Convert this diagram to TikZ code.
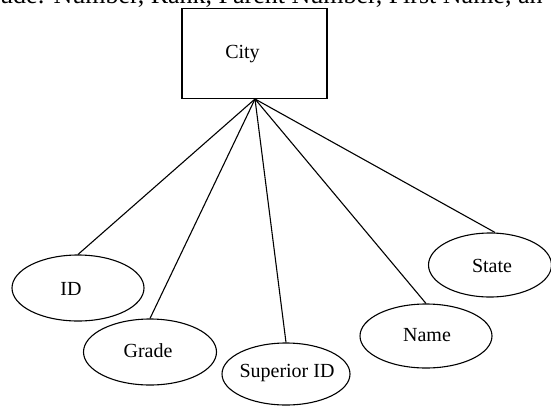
\documentclass[tikz,border=0pt]{standalone}
\usepackage{fontspec}
\setmainfont{Liberation Serif}
\usetikzlibrary{shapes.geometric}
\begin{document}
\begin{tikzpicture}[x=1pt,y=-1pt,
  every node/.style={font=\fontsize{20}{24}\selectfont},
  entity/.style={draw, line width=1.3pt, rectangle, minimum width=145pt, minimum height=90pt, inner sep=0pt},
  attr/.style={draw, line width=1.1pt, ellipse, inner sep=0pt},
  link/.style={line width=1.1pt}]
  \useasboundingbox (0,0) rectangle (551,405);
  \clip (0,0) rectangle (551,405);
  % running text line above the figure, cut at the page edge
  \node[anchor=base west, inner sep=0pt, font=\fontsize{26}{30}\selectfont] (caption) at (0,3.5) {ude: Number, Rank, Parent Number, First Name, an};
  % entity
  \node[entity, label={[xshift=-12pt, yshift=-1pt]center:City}] (city) at (254.5,53.5) {};
  \coordinate (hub) at (255,99);
  % attributes
  \node[attr, minimum width=132pt, minimum height=66pt] (id) at (78,288) {};
  \node (idt) at (71,289) {ID};
  \node[attr, minimum width=133pt, minimum height=66pt] (grade) at (150,352) {};
  \node (gradet) at (148,351) {Grade};
  \node[attr, minimum width=128pt, minimum height=62pt] (sup) at (286,374) {};
  \node (supt) at (287,373) {Superior ID};
  \node[attr, minimum width=132pt, minimum height=64pt] (name) at (426,336) {};
  \node (namet) at (427,335) {Name};
  \node[attr, minimum width=123pt, minimum height=64pt] (state) at (490,265) {};
  \node (statet) at (492,266) {State};
  % relationships from the entity to each attribute
  \draw[link] (hub) -- (id.north);
  \draw[link] (hub) -- (grade.north);
  \draw[link] (hub) -- (sup.north);
  \draw[link] (hub) -- (name.north);
  \draw[link] (hub) -- ([xshift=5pt]state.north);
\end{tikzpicture}
\end{document}
